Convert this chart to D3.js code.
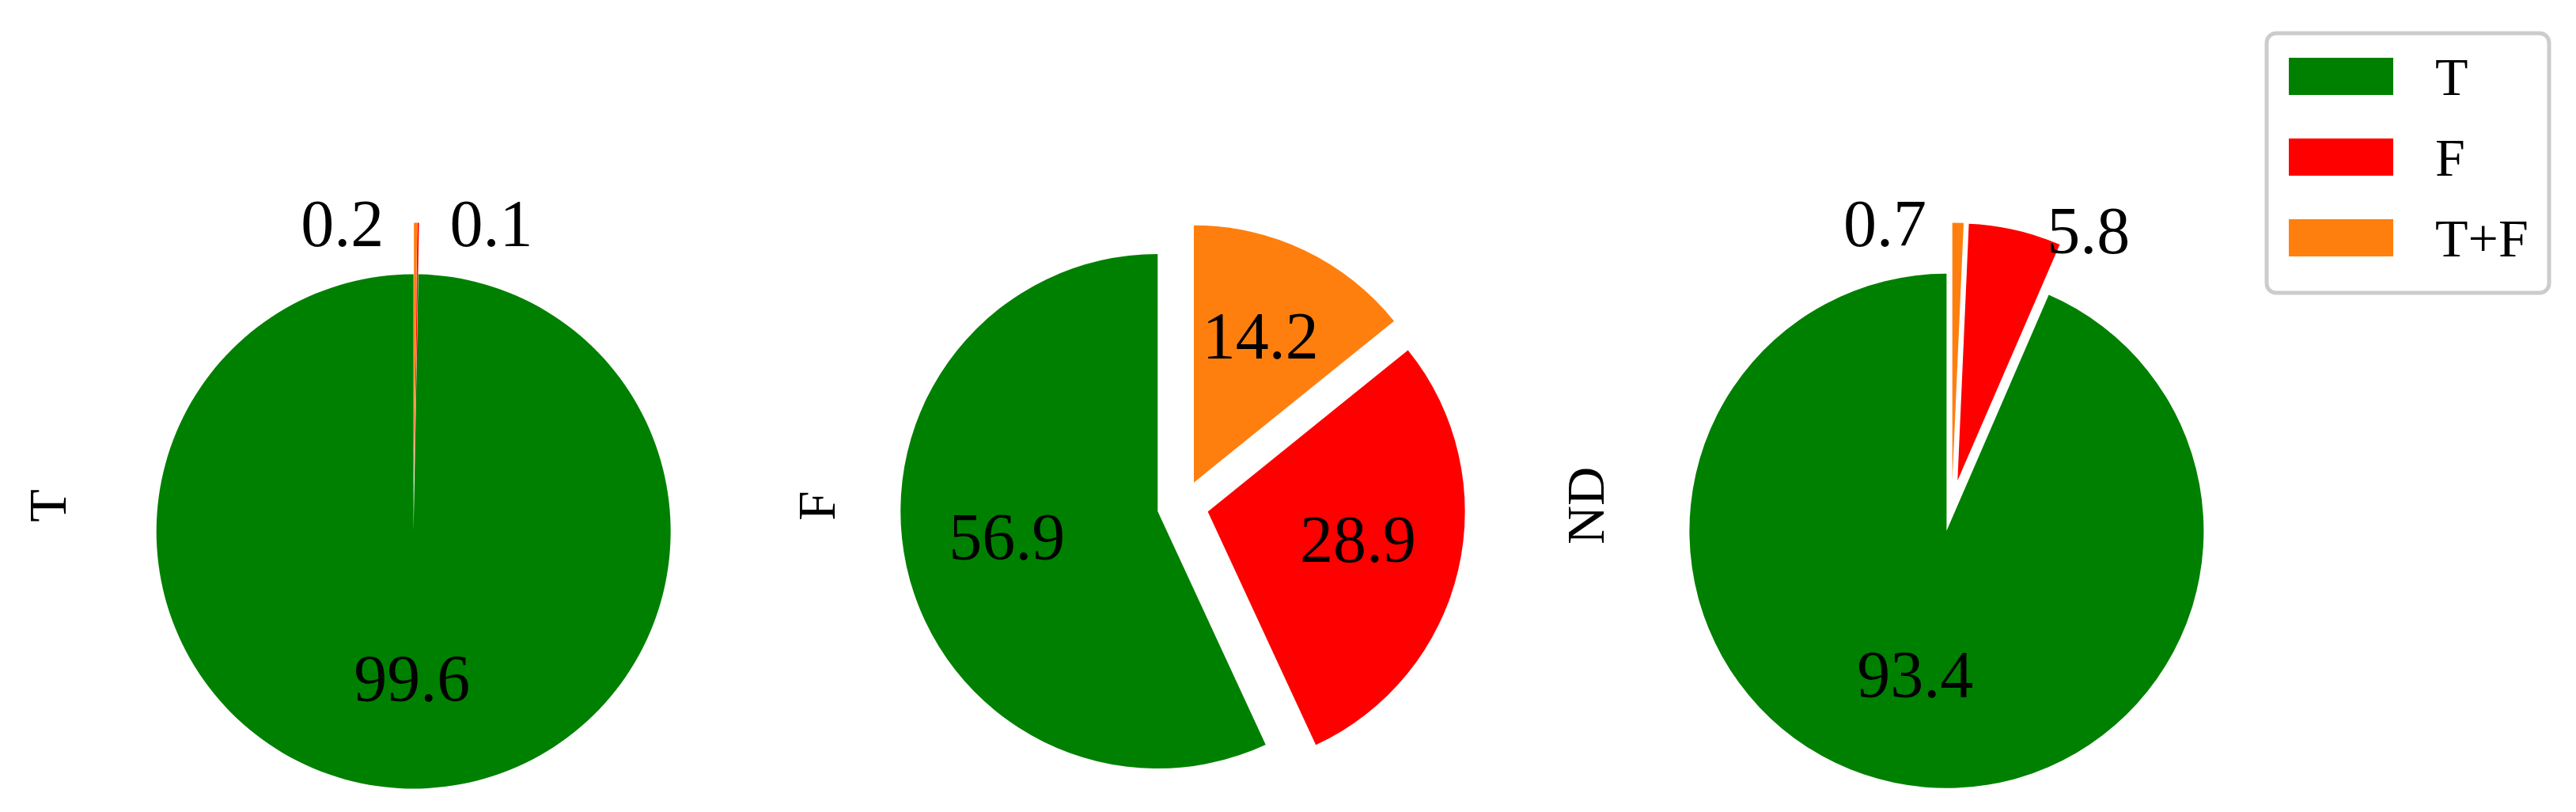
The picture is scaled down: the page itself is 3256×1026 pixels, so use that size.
<!DOCTYPE html>
<html>
<head>
<meta charset="utf-8">
<script src="https://cdn.jsdelivr.net/npm/d3@7"></script>
<style>
  body { margin: 0; background: #fff; }
  svg text { font-family: "Palatino Linotype", Palatino, "Liberation Serif", serif; fill: #000; }
</style>
</head>
<body>
<svg id="svg" width="3256" height="1026"></svg>
<script>
// one pie per row label, slices in legend order
const pieNames = ["T", "F", "ND"];
const categories = ["T", "F", "T+F"];
const colors = ["#008000", "#ff0000", "#ff7f0e"];
const valuesT = [99.6, 0.1, 0.2];
const valuesF = [56.9, 28.9, 14.2];
const valuesND = [93.4, 5.8, 0.7];
const allValues = [valuesT, valuesF, valuesND];

const svg = d3.select("#svg");
const width = 3256, height = 1026;

const radius = 325;
const explode = 0.1 * radius;
const cy = 639;
const pctFont = 84;
const labelFont = 68;

const xPie = d3.scalePoint().domain(pieNames).range([523, 2467]);
const color = d3.scaleOrdinal().domain(categories).range(colors);

// counter-clockwise from 12 o'clock, like matplotlib startangle=90
const pie = d3.pie().sort(null).startAngle(0).endAngle(-2 * Math.PI);
const arc = d3.arc().innerRadius(0).outerRadius(radius);

const dir = a => [Math.sin(a), -Math.cos(a)];

pieNames.forEach((name, pi) => {
  const slices = pie(allValues[pi].map((v, i) => ({ cat: categories[i], value: v })).map(d => d.value))
    .map((s, i) => Object.assign(s, { cat: categories[i] }));

  const g = svg.append("g").attr("transform", `translate(${xPie(name)},${cy})`);

  g.selectAll("path")
    .data(slices)
    .join("path")
    .attr("transform", d => {
      const [dx, dy] = dir((d.startAngle + d.endAngle) / 2);
      return `translate(${dx * explode},${dy * explode})`;
    })
    .attr("fill", d => color(d.cat))
    .attr("d", arc);

  // percentage labels
  slices.forEach(d => {
    const mid = (d.startAngle + d.endAngle) / 2;
    const [dx, dy] = dir(mid);
    if (d.value >= 10) {
      const rr = explode + 0.6 * radius;
      g.append("text")
        .attr("x", dx * rr)
        .attr("y", dy * rr - 10)
        .attr("dy", "0.35em")
        .attr("text-anchor", "middle")
        .attr("font-size", pctFont)
        .text(d.value.toFixed(1));
    } else {
      // small slices: put the number beside the slice tip
      const rr = explode + radius;
      const left = d.cat === "T+F";
      g.append("text")
        .attr("x", dx * rr + (left ? -40 : 40))
        .attr("y", dy * rr)
        .attr("dy", "0.35em")
        .attr("text-anchor", left ? "end" : "start")
        .attr("font-size", pctFont)
        .text(d.value.toFixed(1));
    }
  });

  // row label on the left, rotated
  svg.append("text")
    .attr("transform", `translate(${xPie(name) - 462},${cy}) rotate(-90)`)
    .attr("text-anchor", "middle")
    .attr("dy", "0.33em")
    .attr("font-size", labelFont)
    .text(name);
});

// legend
const legend = svg.append("g");
legend.append("rect")
  .attr("x", 2865).attr("y", 42)
  .attr("width", 357).attr("height", 328)
  .attr("rx", 12)
  .attr("fill", "#fff")
  .attr("stroke", "#cccccc")
  .attr("stroke-width", 5);

const item = legend.selectAll("g.item")
  .data(categories)
  .join("g")
  .attr("class", "item")
  .attr("transform", (d, i) => `translate(2893,${73 + i * 102})`);

item.append("rect")
  .attr("width", 132)
  .attr("height", 47)
  .attr("fill", d => color(d));

item.append("text")
  .attr("x", 185)
  .attr("y", 47)
  .attr("font-size", labelFont)
  .text(d => d);
</script>
</body>
</html>
